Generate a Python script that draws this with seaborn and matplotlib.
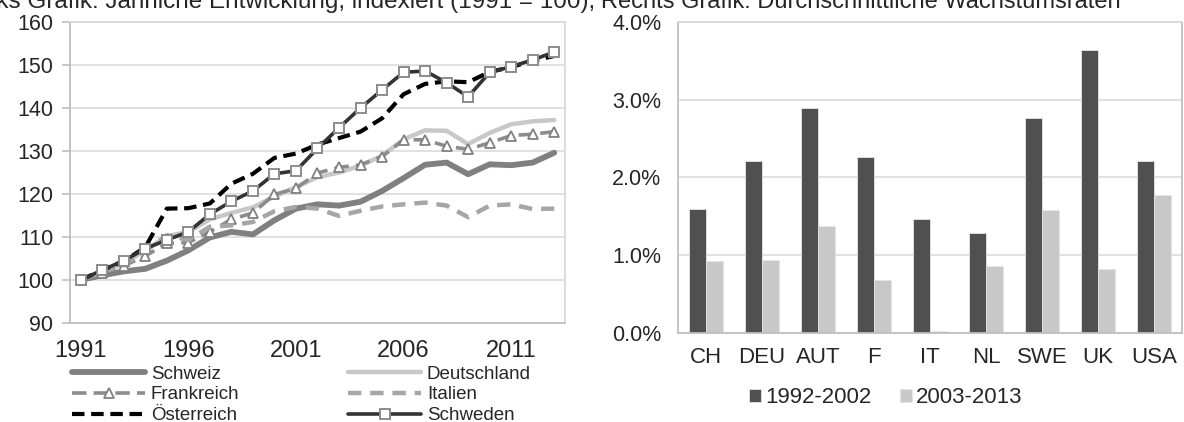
import numpy as np
import pandas as pd
import matplotlib
matplotlib.use("Agg")
import matplotlib.pyplot as plt
import seaborn as sns
from matplotlib.ticker import FuncFormatter, FixedLocator

# ---- data: left chart (index 1991 = 100) ----
years = list(range(1991, 2014))
schweiz = [100, 101.1, 102.0, 102.6, 104.5, 106.9, 109.9, 111.2, 110.6, 113.9, 116.6,
           117.6, 117.3, 118.2, 120.7, 123.7, 126.8, 127.3, 124.6, 126.9, 126.7, 127.3, 129.6]
deutschland = [100, 101.9, 103.8, 106.9, 110.2, 111.2, 114.1, 115.6, 116.9, 119.4, 121.6,
               123.9, 125.0, 126.6, 128.9, 132.7, 134.8, 134.7, 131.6, 134.2, 136.2, 136.9, 137.2]
frankreich = [100, 101.6, 103.3, 105.6, 108.5, 108.7, 111.2, 114.1, 115.6, 119.9, 121.3,
              124.9, 126.2, 126.8, 128.7, 132.6, 132.6, 131.1, 130.4, 131.9, 133.6, 133.9, 134.5]
italien = [100, 101.9, 103.4, 106.8, 110.4, 109.3, 112.4, 112.7, 113.5, 116.0, 117.0,
           116.6, 114.9, 116.1, 117.1, 117.6, 118.0, 117.3, 114.6, 117.3, 117.6, 116.5, 116.6]
oesterreich = [100, 102.3, 104.4, 107.6, 116.6, 116.7, 117.8, 122.4, 124.7, 128.4, 129.4,
               131.5, 133.0, 134.5, 137.6, 143.2, 145.6, 146.2, 146.0, 148.4, 149.5, 151.0, 152.1]
schweden = [100, 102.3, 104.5, 107.3, 109.3, 111.2, 115.3, 118.3, 120.7, 124.7, 125.4,
            130.6, 135.4, 140.0, 144.2, 148.3, 148.6, 145.9, 142.6, 148.3, 149.6, 151.2, 153.0]

# ---- data: right chart (average growth rates, %) ----
laender = ["CH", "DEU", "AUT", "F", "IT", "NL", "SWE", "UK", "USA"]
wachstum_9202 = [1.60, 2.21, 2.90, 2.26, 1.47, 1.29, 2.77, 3.64, 2.21]
wachstum_0313 = [0.93, 0.94, 1.38, 0.68, 0.02, 0.86, 1.58, 0.82, 1.77]

sns.set_style("white")
plt.rcParams['font.family'] = ['Liberation Sans', 'DejaVu Sans']

fig = plt.figure(figsize=(11.84, 4.22), dpi=100)
ax1 = fig.add_axes([0.0591, 0.2346, 0.4181, 0.7133])
ax2 = fig.add_axes([0.5726, 0.2109, 0.4257, 0.7370])

spine_c = "#bfbfbf"
grid_c = "#d9d9d9"

# =======================
# LEFT: line chart
# =======================
series = [
    ("Schweiz", schweiz, dict(color="#808080", linewidth=4.2, linestyle="-")),
    ("Deutschland", deutschland, dict(color="#c8c8c8", linewidth=3.2, linestyle="-")),
    ("Frankreich", frankreich, dict(color="#8c8c8c", linewidth=2.6, linestyle=(0, (4, 2)),
                                    marker="^", markersize=7, markerfacecolor="white",
                                    markeredgecolor="#808080", markeredgewidth=1.3)),
    ("Italien", italien, dict(color="#a6a6a6", linewidth=3.2, linestyle=(0, (3, 2)))),
    ("Österreich", oesterreich, dict(color="black", linewidth=3.0, linestyle=(0, (3, 1.6)))),
    ("Schweden", schweden, dict(color="#333333", linewidth=2.6, linestyle="-",
                                marker="s", markersize=7, markerfacecolor="white",
                                markeredgecolor="#8c8c8c", markeredgewidth=1.4)),
]
for name, vals, style in series:
    sns.lineplot(x=years, y=vals, ax=ax1, label=name, **style)

ax1.set_xlim(1990.5, 2013.5)
ax1.set_ylim(90, 160)
ax1.set_yticks(range(90, 161, 10))
ax1.set_xticks([1991, 1996, 2001, 2006, 2011])
ax1.xaxis.set_minor_locator(FixedLocator(np.arange(1990.5, 2014, 1)))
ax1.tick_params(axis="x", which="major", length=0, labelsize=17, pad=12)
ax1.tick_params(axis="x", which="minor", length=6, width=1.2, color=spine_c, direction="out")
ax1.tick_params(axis="y", length=6, width=1.2, color=spine_c, labelsize=15.5, pad=6, left=True)
ax1.grid(axis="y", color=grid_c, linewidth=1.1)
for s in ax1.spines.values():
    s.set_color(spine_c)
    s.set_linewidth(1.3)
ax1.spines["top"].set_color(grid_c)
ax1.spines["right"].set_color(grid_c)
ax1.set_xlabel("")
ax1.set_ylabel("")

# legend reads row by row: Schweiz | Deutschland, Frankreich | Italien, ...
handles, labels = ax1.get_legend_handles_labels()
ax1.legend_.remove()
order = [0, 2, 4, 1, 3, 5]
fig.legend([handles[i] for i in order], [labels[i] for i in order], ncol=2,
           loc="upper left", bbox_to_anchor=(0.0608, 0.134),
           frameon=False, fontsize=13.5, handlelength=3.9, handletextpad=0.3,
           labelspacing=0.2, columnspacing=5.8, borderaxespad=0, borderpad=0)

# =======================
# RIGHT: bar chart
# =======================
df = pd.DataFrame({
    "Land": laender * 2,
    "Wachstum": wachstum_9202 + wachstum_0313,
    "Periode": ["1992-2002"] * len(laender) + ["2003-2013"] * len(laender),
})
sns.barplot(data=df, x="Land", y="Wachstum", hue="Periode", ax=ax2,
            palette=["#505050", "#c8c8c8"], saturation=1, width=0.6,
            edgecolor="#e6e6e6", linewidth=0.6)

ax2.set_ylim(0, 4.0)
ax2.set_xlim(-0.5, 8.5)
ax2.set_yticks([0, 1, 2, 3, 4])
ax2.yaxis.set_major_formatter(FuncFormatter(lambda v, p: f"{v:.1f}%"))
ax2.xaxis.set_minor_locator(FixedLocator(np.arange(-0.5, 9, 1)))
ax2.tick_params(axis="x", which="major", length=0, labelsize=16, pad=10)
ax2.tick_params(axis="x", which="minor", length=6, width=1.2, color=spine_c, direction="out")
ax2.tick_params(axis="y", length=0, labelsize=15.5, pad=12)
ax2.grid(axis="y", color=grid_c, linewidth=1.1)
ax2.set_axisbelow(True)
for s in ax2.spines.values():
    s.set_color(spine_c)
    s.set_linewidth(1.3)
ax2.spines["top"].set_color(grid_c)
ax2.set_xlabel("")
ax2.set_ylabel("")

h2, l2 = ax2.get_legend_handles_labels()
ax2.legend_.remove()
fig.legend(h2, l2, ncol=2, loc="center", bbox_to_anchor=(0.748, 0.057),
           frameon=False, fontsize=16, handlelength=0.55, handleheight=0.55,
           handletextpad=0.15, columnspacing=1.3, borderpad=0)

# titles cut at the top edge, as in the original
fig.text(0.5025, 1 - 8 / 422,
         "Links Grafik: Jährliche Entwicklung, indexiert (1991 = 100),",
         fontsize=17.5, va="baseline", ha="right")
fig.text(0.508, 1 - 8 / 422,
         "Rechts Grafik: Durchschnittliche Wachstumsraten",
         fontsize=17, va="baseline", ha="left")

fig.savefig("out.png", dpi=100)
